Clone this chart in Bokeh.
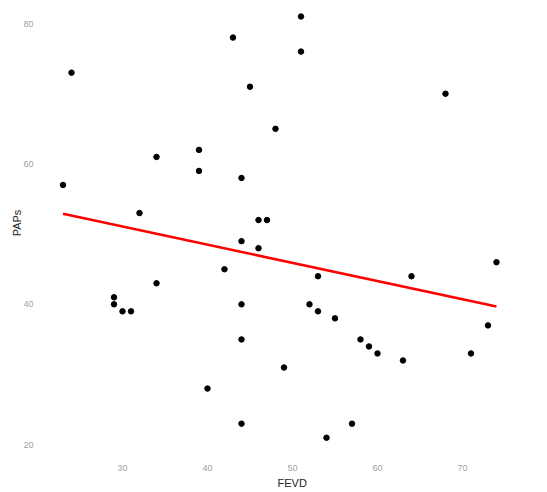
from bokeh.plotting import figure
from bokeh.models import Range1d, FixedTicker, Title
from bokeh.embed import file_html
from bokeh.resources import INLINE

# Data
fevd = [24, 43, 45, 48, 34, 39, 39, 23, 44, 32, 46, 47, 44, 46, 51, 51, 68, 42,
        34, 29, 29, 30, 31, 44, 44, 40, 44, 74, 53, 64, 52, 53, 55, 73, 58, 59,
        60, 71, 63, 49, 57, 54]
paps = [73, 78, 71, 65, 61, 62, 59, 57, 58, 53, 52, 52, 49, 48, 81, 76, 70, 45,
        43, 41, 40, 39, 39, 40, 35, 28, 23, 46, 44, 44, 40, 39, 38, 37, 35, 34,
        33, 33, 32, 31, 23, 21]
x_ticks = [30, 40, 50, 60, 70]
y_ticks = [20, 40, 60, 80]

# Fitted regression line, end values
fit_x = [23, 74]
fit_y = [52.9, 39.7]

p = figure(width=531, height=490,
           x_range=Range1d(20.47, 76.59), y_range=Range1d(19.89, 83.28),
           output_backend="svg", toolbar_location=None,
           min_border_left=41, min_border_right=13, min_border_top=0,
           min_border_bottom=45)

p.background_fill_color = "white"
p.border_fill_color = "white"
p.outline_line_color = None
p.xgrid.grid_line_color = None
p.ygrid.grid_line_color = None

for ax in (p.xaxis[0], p.yaxis[0]):
    ax.axis_line_color = None
    ax.major_tick_line_color = None
    ax.minor_tick_line_color = None
    ax.major_tick_out = 0
    ax.major_tick_in = 0
    ax.minor_tick_out = 0
    ax.major_label_text_font = "Liberation Sans"
    ax.major_label_text_font_size = "9px"
    ax.major_label_text_color = "#a0a0a0"

p.xaxis.ticker = FixedTicker(ticks=x_ticks)
p.yaxis.ticker = FixedTicker(ticks=y_ticks)
p.xaxis.major_label_standoff = 19
p.yaxis.major_label_standoff = 8

p.yaxis.axis_label = "PAPs"
p.yaxis.axis_label_standoff = -3
p.yaxis.axis_label_text_font = "Liberation Sans"
p.yaxis.axis_label_text_font_size = "11px"
p.yaxis.axis_label_text_font_style = "normal"
p.yaxis.axis_label_text_color = "#222222"

t = Title(text="FEVD", align="left", offset=236, standoff=2,
          text_font="Liberation Sans", text_font_size="11px",
          text_font_style="normal", text_color="#222222")
p.add_layout(t, "below")

p.scatter(fevd, paps, size=5.5, color="black")
p.line(fit_x, fit_y, line_color="red", line_width=2.5)

open("out.html", "w").write(file_html(p, INLINE))
